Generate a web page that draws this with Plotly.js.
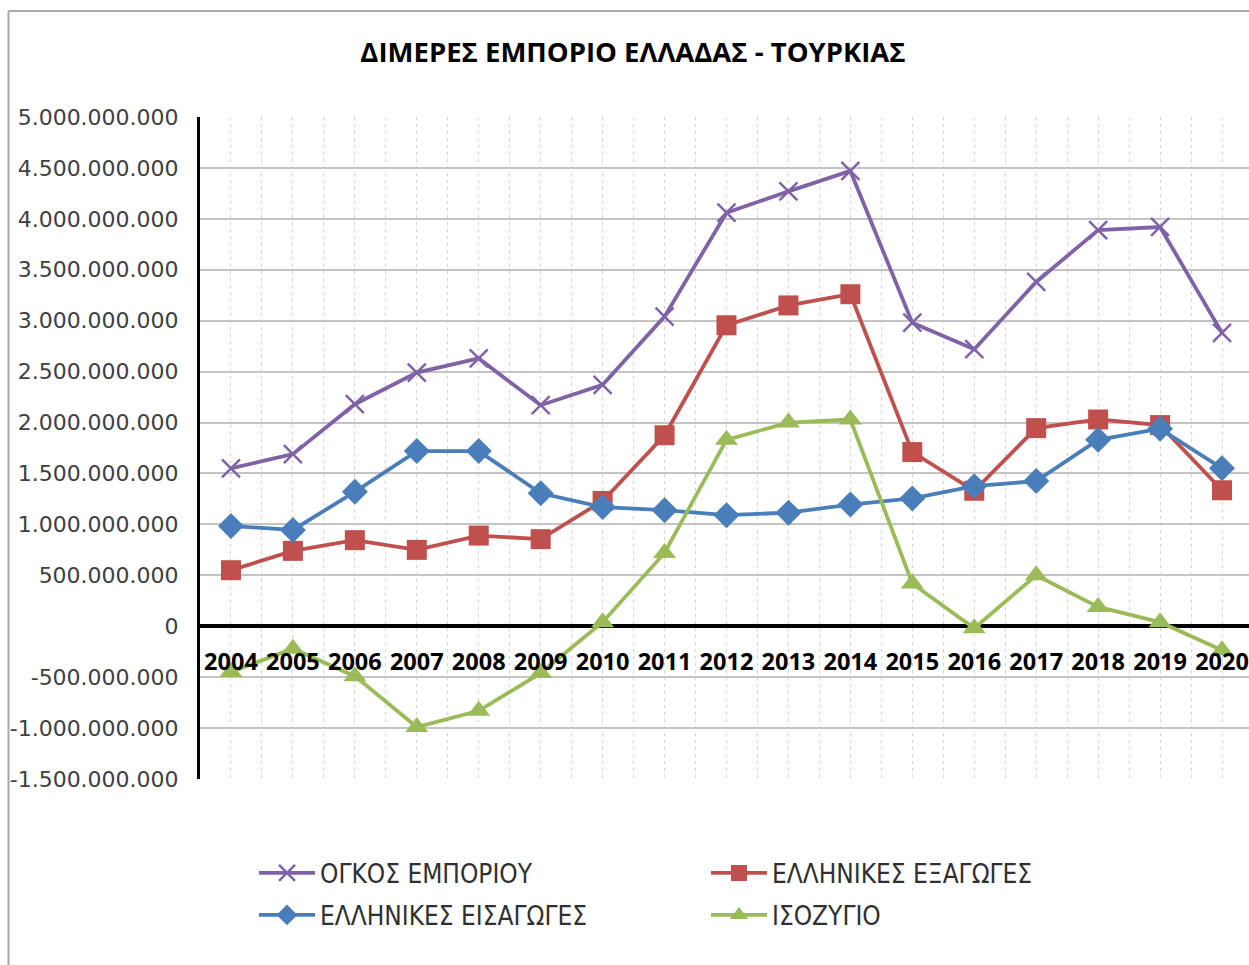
<!DOCTYPE html>
<html>
<head>
<meta charset="utf-8">
<script src="https://cdn.plot.ly/plotly-3.0.1.min.js"></script>
<style>
html,body{margin:0;padding:0;background:#fff;}
#chart{width:1249px;height:965px;}
</style>
</head>
<body>
<div id="chart"></div>
<script>
// ---- Data ----
const years = [2004, 2005, 2006, 2007, 2008, 2009, 2010, 2011, 2012, 2013, 2014, 2015, 2016, 2017, 2018, 2019, 2020];
const yearLabels = ["2004","2005","2006","2007","2008","2009","2010","2011","2012","2013","2014","2015","2016","2017","2018","2019","2020"];

const tradeVolume = [1.55e9, 1.69e9, 2.18e9, 2.49e9, 2.63e9, 2.17e9, 2.37e9, 3.04e9, 4.06e9, 4.27e9, 4.47e9, 2.98e9, 2.72e9, 3.38e9, 3.89e9, 3.92e9, 2.88e9];
const greekExports = [0.55e9, 0.74e9, 0.845e9, 0.75e9, 0.89e9, 0.855e9, 1.23e9, 1.875e9, 2.955e9, 3.15e9, 3.26e9, 1.71e9, 1.33e9, 1.945e9, 2.03e9, 1.975e9, 1.335e9];
const greekImports = [0.985e9, 0.945e9, 1.32e9, 1.72e9, 1.72e9, 1.305e9, 1.17e9, 1.14e9, 1.09e9, 1.115e9, 1.195e9, 1.255e9, 1.375e9, 1.425e9, 1.83e9, 1.94e9, 1.55e9];
const tradeBalance = [-0.45e9, -0.22e9, -0.49e9, -0.99e9, -0.83e9, -0.46e9, 0.04e9, 0.72e9, 1.83e9, 2.0e9, 2.03e9, 0.42e9, -0.02e9, 0.50e9, 0.19e9, 0.04e9, -0.235e9];

const yTickValues = [5e9, 4.5e9, 4e9, 3.5e9, 3e9, 2.5e9, 2e9, 1.5e9, 1e9, 5e8, 0, -5e8, -1e9, -1.5e9];
const yTickLabels = ["5.000.000.000", "4.500.000.000", "4.000.000.000", "3.500.000.000", "3.000.000.000",
  "2.500.000.000", "2.000.000.000", "1.500.000.000", "1.000.000.000", "500.000.000", "0",
  "-500.000.000", "-1.000.000.000", "-1.500.000.000"];

const seriesNames = ["ΟΓΚΟΣ ΕΜΠΟΡΙΟΥ", "ΕΛΛΗΝΙΚΕΣ ΕΞΑΓΩΓΕΣ", "ΕΛΛΗΝΙΚΕΣ ΕΙΣΑΓΩΓΕΣ", "ΙΣΟΖΥΓΙΟ"];
const chartTitle = "ΔΙΜΕΡΕΣ ΕΜΠΟΡΙΟ ΕΛΛΑΔΑΣ - ΤΟΥΡΚΙΑΣ";

// ---- Styles ----
const C_PURPLE = "#7F63A6", C_RED = "#C0504D", C_BLUE = "#4A7EBB", C_GREEN = "#9BBB59";
const LW = 3.8;

const traces = [
  {x: years, y: tradeVolume, name: seriesNames[0], type: "scatter", mode: "lines+markers",
   line: {color: C_PURPLE, width: LW},
   marker: {symbol: "x-thin", size: 18, color: C_PURPLE, line: {color: C_PURPLE, width: 2.5}},
   legend: "legend"},
  {x: years, y: greekExports, name: seriesNames[1], type: "scatter", mode: "lines+markers",
   line: {color: C_RED, width: LW},
   marker: {symbol: "square", size: 20, color: C_RED},
   legend: "legend"},
  {x: years, y: greekImports, name: seriesNames[2], type: "scatter", mode: "lines+markers",
   line: {color: C_BLUE, width: LW},
   marker: {symbol: "diamond", size: 20, color: C_BLUE},
   legend: "legend2"},
  {x: years, y: tradeBalance, name: seriesNames[3], type: "scatter", mode: "lines+markers",
   line: {color: C_GREEN, width: LW},
   marker: {symbol: "triangle-up", size: 20, color: C_GREEN},
   legend: "legend2"}
];

const PL = 200, PR = 1249, PT = 117, PB = 779;
const PW = PR - PL, PH = PB - PT;
const catStep = 61.94;
const yMin = -1.5e9, yMax = 5e9;

const legendFont = {family: "DejaVu Sans Condensed, Liberation Sans Narrow, Liberation Sans, sans-serif", size: 26, color: "#303030"};

const layout = {
  width: 1249, height: 965,
  margin: {l: PL, r: 1249 - PR, t: PT, b: 965 - PB, pad: 0},
  paper_bgcolor: "#ffffff", plot_bgcolor: "#ffffff",
  showlegend: true,
  title: {
    text: chartTitle,
    font: {family: "Open Sans, sans-serif", size: 27.5, color: "#000000", weight: "bold"},
    x: 633 / 1249, xref: "container", xanchor: "center",
    y: 1 - 52 / 965, yref: "container", yanchor: "middle"
  },
  xaxis: {
    type: "linear",
    range: [years[0] - 0.5, years[0] - 0.5 + PW / catStep],
    tickmode: "array", tickvals: years, ticktext: yearLabels,
    anchor: "free", position: (0 - yMin) / (yMax - yMin),
    showline: false, zeroline: false,
    ticks: "outside", ticklen: 15, tickcolor: "rgba(0,0,0,0)",
    ticklabeloverflow: "allow",
    tickfont: {family: "Open Sans, sans-serif", size: 23.5, color: "#000000", weight: "bold"},
    showgrid: true, gridcolor: "#d4d4d4", gridwidth: 1, griddash: "3px,4px",
    minor: {tick0: years[0] - 0.5, dtick: 1, showgrid: true, gridcolor: "#d4d4d4", gridwidth: 1, griddash: "3px,4px", ticks: ""},
    fixedrange: true
  },
  yaxis: {
    range: [yMin, yMax],
    tickmode: "array", tickvals: yTickValues, ticktext: yTickLabels,
    showline: true, linecolor: "#000000", linewidth: 3,
    zeroline: true, zerolinecolor: "#000000", zerolinewidth: 3.5,
    showgrid: true, gridcolor: "#c4c4c4", gridwidth: 2,
    ticks: "outside", ticklen: 14, tickcolor: "rgba(0,0,0,0)",
    tickfont: {family: "DejaVu Sans, sans-serif", size: 22, color: "#404040"},
    fixedrange: true
  },
  legend: {
    orientation: "h", x: (254 - PL) / PW, xanchor: "left",
    y: (PB - 873) / PH, yanchor: "middle",
    entrywidth: 381, entrywidthmode: "pixels", itemwidth: 56,
    font: legendFont, bgcolor: "rgba(0,0,0,0)", traceorder: "normal"
  },
  legend2: {
    orientation: "h", x: (254 - PL) / PW, xanchor: "left",
    y: (PB - 915) / PH, yanchor: "middle",
    entrywidth: 381, entrywidthmode: "pixels", itemwidth: 56,
    font: legendFont, bgcolor: "rgba(0,0,0,0)", traceorder: "normal"
  },
  shapes: [
    {type: "line", xref: "paper", yref: "paper",
     x0: (8.5 - PL) / PW, x1: (8.5 - PL) / PW, y0: (PB - 11) / PH, y1: (PB - 970) / PH,
     line: {color: "#a8a8a8", width: 2}},
    {type: "line", xref: "paper", yref: "paper",
     x0: (8.5 - PL) / PW, x1: (1260 - PL) / PW, y0: (PB - 11) / PH, y1: (PB - 11) / PH,
     line: {color: "#a8a8a8", width: 2}}
  ]
};

Plotly.newPlot("chart", traces, layout, {displayModeBar: false, staticPlot: true});
</script>
</body>
</html>
